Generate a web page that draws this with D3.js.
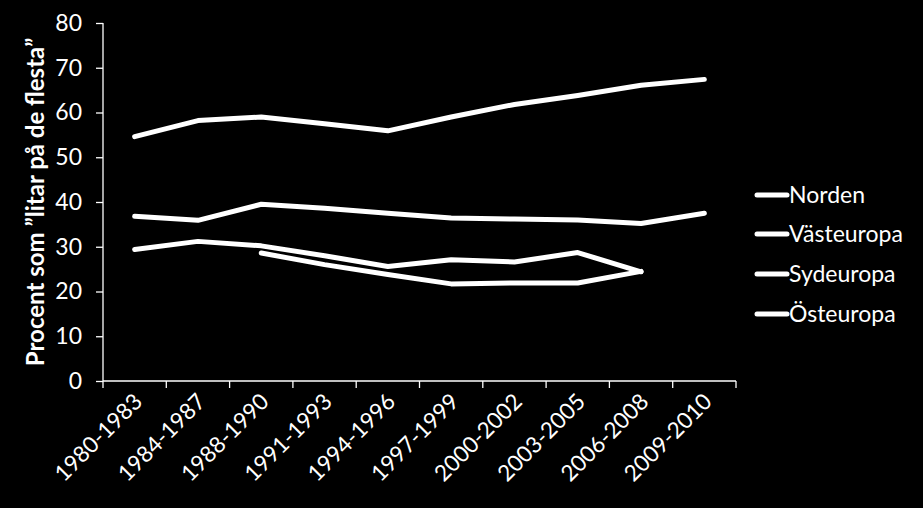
<!DOCTYPE html>
<html><head><meta charset="utf-8">
<script src="https://cdn.jsdelivr.net/npm/d3@7"></script>
<style>
html,body{margin:0;padding:0;background:#000;}
svg{display:block;}
text{font-family:Lato,"Open Sans",sans-serif;fill:#fff;}
</style></head><body>
<svg id="c" width="923" height="508"></svg>
<script>
const categories = ["1980-1983","1984-1987","1988-1990","1991-1993","1994-1996","1997-1999","2000-2002","2003-2005","2006-2008","2009-2010"];
const norden     = [54.6, 58.2, 59.0, 57.5, 55.9, 59.0, 61.8, 63.8, 66.1, 67.4];
const vasteuropa = [36.8, 35.9, 39.5, 38.6, 37.5, 36.4, 36.2, 36.0, 35.2, 37.5];
const sydeuropa  = [29.4, 31.2, 30.2, 28.0, 25.6, 27.1, 26.6, 28.7, 24.4, null];
const osteuropa  = [null, null, 28.6, 26.0, 23.8, 21.7, 21.9, 21.9, 24.5, null];
const seriesNames = ["Norden","Västeuropa","Sydeuropa","Östeuropa"];
const yTicks = [0,10,20,30,40,50,60,70,80];
const yTitle = "Procent som ”litar på de flesta”";

const svg = d3.select("#c");
const x = d3.scaleBand().domain(categories).range([103, 736]);
const y = d3.scaleLinear().domain([0, 80]).range([381, 23]);

// Y axis
const ya = svg.append("g").attr("transform","translate(103,0)")
  .call(d3.axisLeft(y).tickValues(yTicks).tickSize(7).tickPadding(14));
ya.selectAll("path,line").attr("stroke","#fff").attr("stroke-width",1.3);
ya.selectAll("text").attr("font-size",23).attr("fill","#fff").style("font-family","Lato");
ya.select(".domain").attr("d","M0,23V381");

// X axis
const xa = svg.append("g").attr("transform","translate(0,381)")
  .call(d3.axisBottom(x).tickSize(0).tickFormat(""));
xa.selectAll("path").attr("stroke","#fff").attr("stroke-width",1.3).attr("d","M103,0H736");
xa.selectAll(".tick").remove();
const edges = categories.map(c => x(c)).concat([x.range()[1]]);
xa.selectAll("line.edge").data(edges).enter().append("line")
  .attr("x1",d=>d).attr("x2",d=>d).attr("y1",0).attr("y2",7)
  .attr("stroke","#fff").attr("stroke-width",1.3);
xa.selectAll("text.lab").data(categories).enter().append("text")
  .attr("class","lab")
  .attr("transform", d => `translate(${x(d)+x.bandwidth()/2+9},${22}) rotate(-45)`)
  .attr("text-anchor","end")
  .attr("font-size",22.5)
  .text(d=>d);

// Y title
svg.append("text")
  .attr("transform","translate(44,202) rotate(-90)")
  .attr("text-anchor","middle")
  .attr("font-size",24)
  .attr("font-weight","bold")
  .text(yTitle);

// Lines
const data = [norden, vasteuropa, sydeuropa, osteuropa];
const line = d3.line()
  .defined(d => d.v !== null)
  .x(d => x(d.c) + x.bandwidth()/2)
  .y(d => y(d.v));
data.forEach(arr => {
  svg.append("path")
    .datum(arr.map((v,i)=>({c:categories[i], v})))
    .attr("d", line)
    .attr("fill","none").attr("stroke","#fff")
    .attr("stroke-width",5).attr("stroke-linecap","round").attr("stroke-linejoin","round");
});

// Legend
const legY = [195, 234, 274, 314];
seriesNames.forEach((n,i)=>{
  svg.append("line").attr("x1",757).attr("x2",787).attr("y1",legY[i]).attr("y2",legY[i])
    .attr("stroke","#fff").attr("stroke-width",5).attr("stroke-linecap","round");
  svg.append("text").attr("x",789).attr("y",legY[i]).attr("dy","0.36em")
    .attr("font-size",23).text(n);
});
</script>
</body></html>
